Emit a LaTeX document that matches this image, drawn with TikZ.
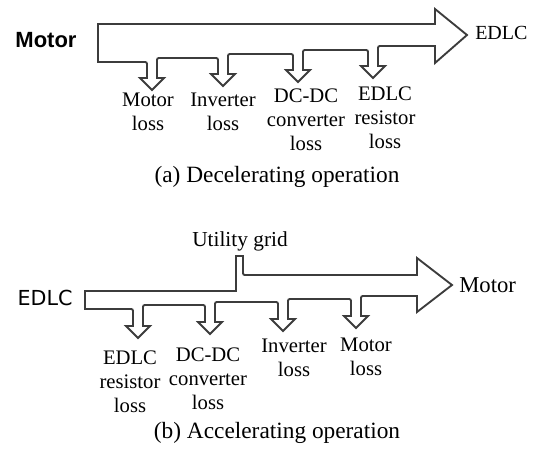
\documentclass[tikz,border=0pt]{standalone}
\usepackage{fontspec}
\setmainfont{Liberation Serif}
\newfontfamily\boldsans{Liberation Sans}
\newfontfamily\dvsans{DejaVu Sans}
\usepackage{tikz}
\tikzset{
  flowline/.style={draw={rgb,255:red,60;green,60;blue,60}, line width=1.4pt},
  lossnote/.style={align=center, inner sep=0.75pt, font=\fontsize{15.5}{18}\selectfont},
  capnote/.style={inner sep=0.75pt, font=\fontsize{17.5}{20}\selectfont},
  endnote/.style={anchor=west, inner sep=0.75pt, font=\fontsize{15}{18}\selectfont}
}

\begin{document}
\begin{tikzpicture}[x=0.75pt,y=0.75pt,yscale=-1,xscale=1]
\useasboundingbox (0,0) rectangle (534,450);

%Shape: Flow (a) decelerating
\draw [flowline] (98,24) -- (435,24) -- (435,9) -- (467,35) -- (435,63) -- (435,46)
  -- (382,46) .. controls (378,46) .. (378,50) -- (378,66) -- (385,66) -- (373,78) -- (361,66) -- (368,66)
  -- (368,54) .. controls (368,50) .. (364,50)
  -- (307,50) .. controls (303,50) .. (303,54) -- (303,70) -- (310,70) -- (298,82) -- (286,70) -- (293,70)
  -- (293,58) .. controls (293,54) .. (289,54)
  -- (232,54) .. controls (228,54) .. (228,58) -- (228,74) -- (235,74) -- (223,86) -- (211,74) -- (218,74)
  -- (218,62) .. controls (218,58) .. (214,58)
  -- (161,58) .. controls (157,58) .. (157,62) -- (157,78) -- (164,78) -- (152,90) -- (140,78) -- (147,78)
  -- (147,66) .. controls (147,62) .. (143,62)
  -- (98,62) -- cycle ;

%Shape: Flow (b) accelerating
\draw [flowline] (85,291) -- (236,291) -- (236,256) -- (243,256) -- (243,271) .. controls (243,275) .. (247,275)
  -- (417,275) -- (417,258) -- (452,285) -- (417,312) -- (417,296)
  -- (365,296) .. controls (361,296) .. (361,300) -- (361,316) -- (368,316) -- (356,328) -- (344,316) -- (351,316)
  -- (351,303) .. controls (351,299) .. (347,299)
  -- (292,299) .. controls (288,299) .. (288,303) -- (288,319) -- (295,319) -- (283,331) -- (271,319) -- (278,319)
  -- (278,306) .. controls (278,302) .. (274,302)
  -- (219,302) .. controls (215,302) .. (215,306) -- (215,322) -- (222,322) -- (210,334) -- (198,322) -- (205,322)
  -- (205,309) .. controls (205,305) .. (201,305)
  -- (147,305) .. controls (143,305) .. (143,309) -- (143,326) -- (150,326) -- (138,338) -- (126,326) -- (133,326)
  -- (133,313) .. controls (133,309) .. (129,309)
  -- (85,309) -- cycle ;

% Text Node
\draw (46,40) node (srcA) [inner sep=0.75pt, font=\boldsans\bfseries\fontsize{16.5}{19}\selectfont] {Motor};
% Text Node
\draw (474,33) node (sinkA) [endnote] {EDLC};
% Text Node
\draw (148,112) node (motorlossA) [lossnote] {Motor\\loss};
% Text Node
\draw (223,112) node (invlossA) [lossnote] {Inverter\\loss};
% Text Node
\draw (306,120) node (dclossA) [lossnote] {DC-DC\\converter\\loss};
% Text Node
\draw (385,118) node (edlclossA) [lossnote] {EDLC\\resistor\\loss};
% Text Node
\draw (277,177) node (capA) [capnote] {(a) Decelerating operation};

% Text Node
\draw (240,241) node (grid) [inner sep=0.75pt, font=\fontsize{16}{19}\selectfont] {Utility grid};
% Text Node
\draw (45,298) node (srcB) [inner sep=0.75pt, font=\dvsans\fontsize{15.5}{18}\selectfont] {EDLC};
% Text Node
\draw (458,285) node (sinkB) [endnote, font=\fontsize{17}{20}\selectfont] {Motor};
% Text Node
\draw (130,382) node (edlclossB) [lossnote] {EDLC\\resistor\\loss};
% Text Node
\draw (208,379) node (dclossB) [lossnote] {DC-DC\\converter\\loss};
% Text Node
\draw (294,358) node (invlossB) [lossnote] {Inverter\\loss};
% Text Node
\draw (366,357) node (motorlossB) [lossnote] {Motor\\loss};
% Text Node
\draw (277,433) node (capB) [capnote] {(b) Accelerating operation};

\end{tikzpicture}
\end{document}
